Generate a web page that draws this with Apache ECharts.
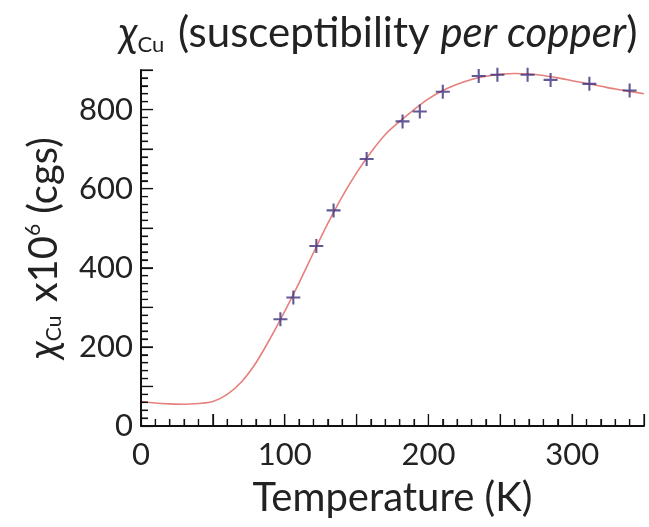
<!DOCTYPE html>
<html>
<head>
<meta charset="utf-8">
<script src="https://cdn.jsdelivr.net/npm/echarts@6/dist/echarts.min.js"></script>
<style>
  html, body { margin: 0; padding: 0; background: #fff; }
  #chart { width: 649px; height: 527px; }
</style>
</head>
<body>
<div id="chart"></div>
<script>
// Measured susceptibility per copper (x10^6 cgs) against temperature (K)
const measuredT = [97, 106, 122, 134, 157, 182, 194, 210, 235, 248, 269, 285, 312, 340];
const measuredChi = [270, 325, 455, 545, 675, 770, 795, 845, 885, 888, 888, 875, 865, 848];

// Fitted curve, sampled every 10 K
const fitT = [0, 10, 20, 30, 40, 50, 60, 70, 80, 90, 100, 110, 120, 130, 140, 150, 160, 170,
  180, 190, 200, 210, 220, 230, 240, 250, 260, 270, 280, 290, 300, 310, 320, 330, 340, 350];
const fitChi = [62, 58, 56, 55, 57, 62, 80, 112, 160, 222, 290, 362, 438, 512, 580, 640, 692, 737,
  770, 800, 827, 848, 864, 876, 884, 889, 891, 890, 886, 880, 873, 866, 859, 852, 846, 840];

// Tick labels and tick-mark positions on both axes
const xTickLabels = [0, 100, 200, 300];
const yTickLabels = [0, 200, 400, 600, 800];
const xMajorTicks = [0, 50, 100, 150, 200, 250, 300, 350];
const xMinorTicks = [10, 20, 30, 40, 60, 70, 80, 90, 110, 120, 130, 140, 160, 170, 180, 190,
  210, 220, 230, 240, 260, 270, 280, 290, 310, 320, 330, 340];
const yMajorTicks = [0, 100, 200, 300, 400, 500, 600, 700, 800, 900];
const yMinorTicks = [20, 40, 60, 80, 120, 140, 160, 180, 220, 240, 260, 280, 320, 340, 360, 380,
  420, 440, 460, 480, 520, 540, 560, 580, 620, 640, 660, 680, 720, 740, 760, 780, 820, 840, 860, 880];

const FONT = 'Lato';
const TEXT = '#222';
const AXIS = '#111';

const chart = echarts.init(document.getElementById('chart'), null, { renderer: 'canvas' });

const big = (extra) => Object.assign({ fontFamily: FONT, fontSize: 42, fontWeight: 'normal', color: TEXT, lineHeight: 46 }, extra || {});
const small = (extra) => Object.assign({ fontFamily: FONT, fontSize: 22, fontWeight: 'normal', color: TEXT, lineHeight: 46 }, extra || {});

function valueAxis(opts, labels, margin) {
  return Object.assign({
    type: 'value',
    zlevel: 1,
    nameLocation: 'middle',
    axisLine: { show: true, onZero: false, lineStyle: { color: AXIS, width: 2 } },
    axisTick: { show: true, inside: true, length: 12, lineStyle: { color: AXIS, width: 1.2 } },
    minorTick: { show: true, splitNumber: 5, length: 7, lineStyle: { color: AXIS, width: 1.2 } },
    splitLine: { show: false },
    axisLabel: {
      fontFamily: FONT, fontSize: 31, color: TEXT, margin: margin,
      formatter: v => (labels.indexOf(v) >= 0 ? String(v) : '')
    }
  }, opts);
}

// Inward tick marks, placed through the cartesian scales on their own layer
function tickSeries(values, vertical, len) {
  return {
    type: 'custom',
    coordinateSystem: 'cartesian2d',
    silent: true,
    clip: false,
    zlevel: 2,
    z: 5,
    data: values.map(v => (vertical ? [v, 0] : [0, v])),
    renderItem: (params, api) => {
      const p = api.coord([api.value(0), api.value(1)]);
      const shape = vertical
        ? { x1: p[0], y1: p[1], x2: p[0], y2: p[1] - len }
        : { x1: p[0], y1: p[1], x2: p[0] + len, y2: p[1] };
      return { type: 'line', shape: shape, style: { stroke: AXIS, lineWidth: 1.2 } };
    }
  };
}

chart.setOption({
  backgroundColor: '#fff',
  animation: false,
  title: {
    text: '{chi|χ}{sub|Cu}{main| (susceptibility }{it|per copper}{main|)}',
    left: 114,
    top: 5,
    textStyle: {
      fontFamily: FONT, fontSize: 42, fontWeight: 'normal', color: TEXT,
      rich: {
        chi: big({ fontStyle: 'italic' }),
        sub: small({ verticalAlign: 'bottom', padding: [0, 3, 0, 0] }),
        main: big(),
        it: big({ fontStyle: 'italic' })
      }
    }
  },
  grid: { left: 141, right: 5, top: 70, bottom: 101 },
  xAxis: valueAxis({
    min: 0, max: 350, interval: 50,
    name: 'Temperature (K)',
    nameGap: 52,
    nameTextStyle: { fontFamily: FONT, fontSize: 40, color: TEXT }
  }, xTickLabels, 13),
  yAxis: valueAxis({
    min: 0, max: 900, interval: 100,
    name: '{chi|χ}{sub|Cu}{main| x10}{sup|6}{main| (cgs)}',
    nameGap: 76,
    nameTextStyle: {
      fontFamily: FONT, fontSize: 40, color: TEXT,
      rich: {
        chi: big({ fontSize: 40, fontStyle: 'italic', lineHeight: 42 }),
        sub: small({ fontSize: 21, verticalAlign: 'bottom', lineHeight: 42, padding: [0, 3, 0, 0] }),
        sup: small({ fontSize: 21, verticalAlign: 'top', lineHeight: 42 }),
        main: big({ fontSize: 40, lineHeight: 42 })
      }
    }
  }, yTickLabels, 8),
  series: [
    {
      name: 'fit',
      type: 'line',
      data: fitT.map((t, i) => [t, fitChi[i]]),
      smooth: 0.3,
      showSymbol: false,
      lineStyle: { color: '#e5807c', width: 1.6 },
      z: 2
    },
    {
      name: 'measured',
      type: 'scatter',
      data: measuredT.map((t, i) => [t, measuredChi[i]]),
      symbol: 'path://M-1.2,-8 L1.2,-8 L1.2,-1.2 L8,-1.2 L8,1.2 L1.2,1.2 L1.2,8 L-1.2,8 L-1.2,1.2 L-8,1.2 L-8,-1.2 L-1.2,-1.2 Z',
      symbolSize: 14,
      itemStyle: { color: '#3b2f7d' },
      z: 3
    },
    tickSeries(xMajorTicks, true, 12),
    tickSeries(xMinorTicks, true, 7),
    tickSeries(yMajorTicks, false, 12),
    tickSeries(yMinorTicks, false, 7)
  ]
});
</script>
</body>
</html>
